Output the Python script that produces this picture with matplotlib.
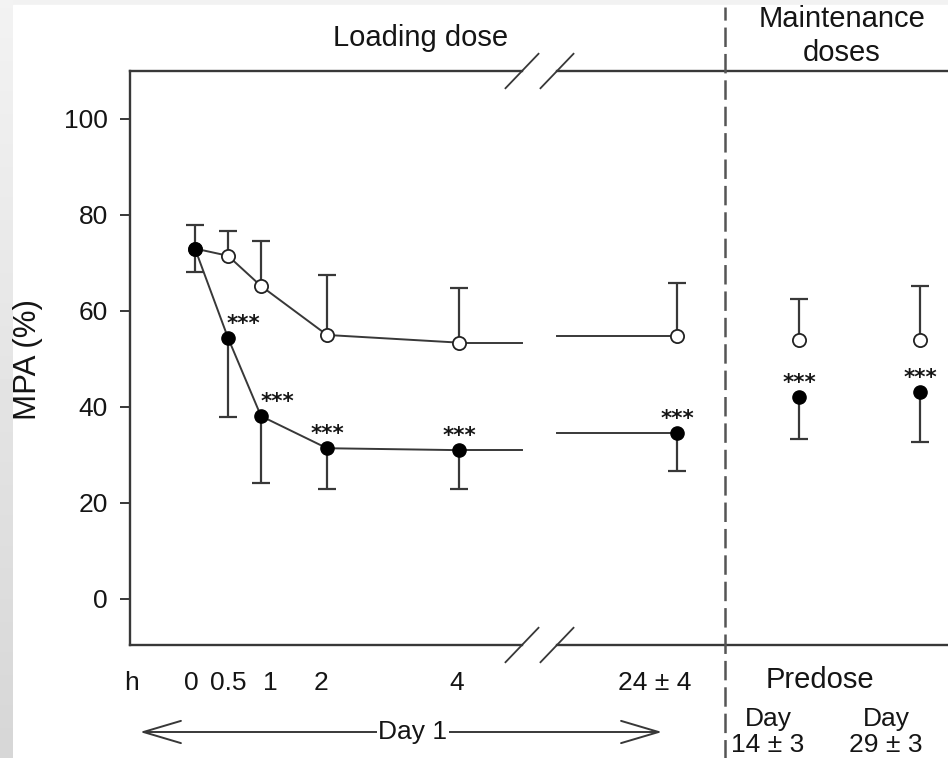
import numpy as np
import matplotlib
matplotlib.use('Agg')
import matplotlib.pyplot as plt
from matplotlib.patches import Rectangle

plt.rcParams['font.family'] = ['Liberation Sans', 'DejaVu Sans']
plt.rcParams['lines.scale_dashes'] = False

# loading dose time points (h) and their tick labels
hours = [0, 0.5, 1, 2, 4, 24]
hour_labels = ['h', '0', '0.5', '1', '2', '4', '24 \u00b1 4']

# open circles
open_mean = [73.0, 71.5, 65.2, 55.0, 53.4, 54.8]
open_upper = [78.0, 76.7, 74.6, 67.5, 64.8, 65.8]
# filled circles
closed_mean = [73.0, 54.4, 38.1, 31.4, 31.0, 34.6]
closed_lower = [68.1, 38.0, 24.1, 22.9, 22.9, 26.7]

# maintenance doses (predose, day 14 and day 29)
maint_labels = ['Day\n14 \u00b1 3', 'Day\n29 \u00b1 3']
maint_open = [54.0, 54.0]
maint_open_upper = [62.5, 65.1]
maint_closed = [42.1, 43.2]
maint_closed_lower = [33.3, 32.6]

W, H = 948, 758
def fx(px):
    return px / W
def fy(py):
    return 1 - py / H

# pixel layout of the x axis: 0 h at 195 px, 66 px per hour
X0, SC = 195, 66.0
def xd(px):
    return (px - X0) / SC

x_load = [h if h <= 4 else xd(677) for h in hours]
x_maint = [xd(799), xd(920)]
brk_l, brk_r = xd(522), xd(557)
x_split = xd(725)

lc = '#383838'
tc = '#151515'
fs = 19
fs_big = 21

fig = plt.figure(figsize=(W / 100, H / 100), dpi=100, facecolor='#f2f2f2')
fig.patches.append(Rectangle((fx(13), 0), 1, fy(5), transform=fig.transFigure,
                             color='white', zorder=-5))
grad = fig.add_axes([0, 0, fx(13), 1])
grad.imshow(np.linspace(0.95, 0.84, 100)[:, None], cmap='gray', vmin=0, vmax=1,
            aspect='auto')
grad.axis('off')

ax = fig.add_axes([fx(130), fy(645), (960 - 130) / W, (645 - 71) / H])
ax.set_xlim(xd(130), xd(960))
ax.set_ylim(-9.6, 110)

# broken frame
for s in ['top', 'bottom', 'right']:
    ax.spines[s].set_visible(False)
ax.spines['left'].set_color(lc)
ax.spines['left'].set_linewidth(1.7)
tr = ax.get_xaxis_transform()
for yy in [0, 1]:
    ax.plot([xd(130), brk_l], [yy, yy], color=lc, lw=1.7, transform=tr, clip_on=False)
    ax.plot([brk_r, xd(960)], [yy, yy], color=lc, lw=1.7, transform=tr, clip_on=False)
    for bx in [brk_l, brk_r]:
        ax.plot([bx - 0.25, bx + 0.25], [yy - 0.03, yy + 0.03], color=lc, lw=1.3,
                transform=tr, clip_on=False)

# lines
ax.plot(x_load[:5], open_mean[:5], color=lc, lw=1.4, zorder=2)
ax.plot([x_load[4], brk_l], [open_mean[4]] * 2, color=lc, lw=1.4, zorder=2)
ax.plot([brk_r, x_load[5]], [open_mean[5]] * 2, color=lc, lw=1.4, zorder=2)
ax.plot(x_load[:5], closed_mean[:5], color=lc, lw=1.4, zorder=2)
ax.plot([x_load[4], brk_l], [closed_mean[4]] * 2, color=lc, lw=1.4, zorder=2)
ax.plot([brk_r, x_load[5]], [closed_mean[5]] * 2, color=lc, lw=1.4, zorder=2)

# error bars (one-sided)
xs = x_load + x_maint
om = open_mean + maint_open
ou = open_upper + maint_open_upper
cm = closed_mean + maint_closed
cl = closed_lower + maint_closed_lower
ax.vlines(xs, om, ou, color=lc, lw=1.6, zorder=1)
ax.plot(xs, ou, ls='none', marker='_', ms=13, mew=1.6, color=lc, zorder=1)
ax.vlines(xs, cl, cm, color=lc, lw=1.6, zorder=1)
ax.plot(xs, cl, ls='none', marker='_', ms=13, mew=1.6, color=lc, zorder=1)

# markers
ax.plot(xs, om, ls='none', marker='o', ms=9.5, mfc='white', mec='#222222', mew=1.3, zorder=4)
ax.plot(xs, cm, ls='none', marker='o', ms=9.5, mfc='black', mec='black', zorder=5)

# significance marks
star_dx = [11, 12, 0, 0, 0, 0, 0]
for i in range(1, len(xs)):
    ax.annotate('***', (xs[i], cm[i]), xytext=(star_dx[i - 1], 10),
                textcoords='offset points', ha='center', va='center',
                fontsize=15.5, fontweight='bold', color=tc, family='DejaVu Sans')

# axes ticks
ax.set_yticks([0, 20, 40, 60, 80, 100])
ax.tick_params(axis='y', direction='out', length=7, width=1.4, color=lc, pad=9,
               labelsize=fs, labelcolor=tc)
tick_px = [132, 191, 228, 270, 321, 457, 655]
ax.set_xticks([xd(p) for p in tick_px], hour_labels)
ax.tick_params(axis='x', length=0, pad=19, labelsize=fs, labelcolor=tc)

# dashed separator
ax.plot([x_split, x_split], [-0.2, 1.112], transform=tr, clip_on=False,
        color='#555555', lw=1.8, dashes=(14, 5))

# texts
fig.text(fx(28), fy(359), 'MPA (%)', rotation=90, ha='center', va='center',
         fontsize=22.5, color=tc)
fig.text(fx(421), fy(38), 'Loading dose', ha='center', va='center', fontsize=fs_big,
         color=tc)
fig.text(fx(842), fy(36), 'Maintenance\ndoses', ha='center', va='center',
         fontsize=fs_big, color=tc, linespacing=1.25)
fig.text(fx(820), fy(680), 'Predose', ha='center', va='center', fontsize=fs_big,
         color=tc)
for px, lab in zip([768, 886], maint_labels):
    fig.text(fx(px), fy(732), lab, ha='center', va='center', fontsize=fs, color=tc,
             linespacing=1.1)

# Day 1 arrow
ax.annotate('', xy=(fx(140), fy(732)), xytext=(fx(662), fy(732)),
            xycoords='figure fraction', textcoords='figure fraction',
            arrowprops=dict(arrowstyle='<->,head_length=1.35,head_width=0.4',
                            mutation_scale=20, color=lc, lw=1.4,
                            shrinkA=0, shrinkB=0))
fig.text(fx(413), fy(732), 'Day 1', ha='center', va='center', fontsize=fs, color=tc,
         bbox=dict(facecolor='white', edgecolor='none', pad=1))

fig.savefig('out.png', dpi=100, facecolor=fig.get_facecolor())
